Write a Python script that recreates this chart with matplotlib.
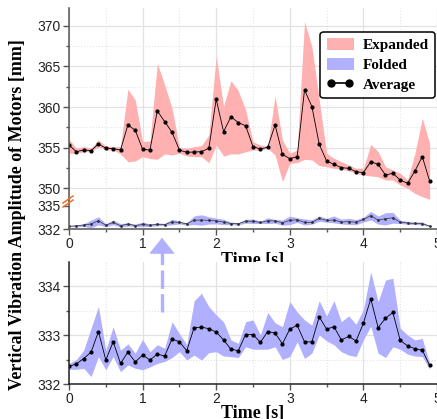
import numpy as np
import matplotlib
matplotlib.use("Agg")
import matplotlib.pyplot as plt
from matplotlib.lines import Line2D
from matplotlib.patches import Patch, FancyArrowPatch
from matplotlib.ticker import MultipleLocator, FixedLocator

plt.rcParams['font.family'] = ['Liberation Sans', 'DejaVu Sans']
plt.rcParams['font.size'] = 10

# sampling times [s]
time = np.arange(50) * 0.1

expanded_avg = [355.33, 354.51, 354.72, 354.64, 355.46, 354.93, 354.89, 354.72, 357.80, 357.15,
                354.80, 354.72, 359.53, 358.21, 356.90, 354.72, 354.43, 354.47, 354.51, 354.93,
                360.97, 356.97, 358.82, 358.09, 357.70, 355.13, 354.84, 355.05, 357.80, 354.19,
                353.65, 353.90, 362.11, 360.06, 355.42, 353.36, 352.95, 352.54, 352.46, 352.05,
                351.93, 353.28, 352.95, 351.64, 351.85, 351.02, 350.62, 352.13, 353.90, 350.90]
expanded_hi = [356.04, 354.93, 355.13, 354.93, 355.95, 355.21, 355.13, 355.13, 362.20, 360.88,
               355.74, 355.83, 365.40, 362.73, 359.86, 355.00, 354.93, 355.13, 355.25, 356.57,
               366.30, 360.06, 363.26, 362.03, 359.65, 355.74, 355.33, 355.13, 361.37, 355.95,
               354.31, 354.72, 370.53, 367.45, 360.88, 354.31, 353.70, 353.28, 352.87, 352.46,
               352.46, 355.42, 354.51, 352.66, 352.25, 351.85, 351.02, 354.31, 358.63, 355.54]
expanded_lo = [354.31, 354.31, 354.51, 354.51, 355.13, 354.72, 354.72, 354.23, 353.28, 353.36,
               353.90, 353.65, 353.57, 354.23, 354.10, 354.31, 353.98, 353.90, 353.90, 353.15,
               355.33, 353.98, 354.23, 354.23, 354.50, 354.72, 354.72, 354.93, 354.10, 350.82,
               353.08, 353.15, 353.57, 353.49, 352.79, 352.66, 352.46, 352.34, 352.17, 351.85,
               351.64, 351.52, 351.43, 351.02, 351.02, 350.41, 350.00, 349.38, 348.97, 348.64]

folded_avg = [332.36, 332.41, 332.52, 332.65, 333.07, 332.49, 332.86, 332.42, 332.65, 332.45,
              332.59, 332.49, 332.61, 332.57, 332.92, 332.86, 332.68, 333.15, 333.16, 333.13,
              333.06, 332.90, 332.71, 332.68, 333.01, 333.01, 332.85, 333.07, 333.04, 332.82,
              333.12, 333.20, 332.86, 332.86, 333.37, 333.12, 333.17, 332.90, 332.97, 332.88,
              333.24, 333.74, 333.15, 333.34, 333.46, 332.89, 332.78, 332.72, 332.69, 332.38]
folded_hi = [332.42, 332.50, 332.69, 333.14, 333.58, 332.69, 333.17, 332.69, 332.82, 332.63,
             332.91, 332.66, 332.80, 332.73, 333.27, 333.03, 332.80, 333.70, 333.85, 333.58,
             333.41, 333.27, 332.90, 332.83, 333.27, 333.31, 333.00, 333.46, 333.25, 333.17,
             333.68, 333.47, 333.31, 333.20, 333.70, 333.39, 333.70, 333.27, 333.39, 333.22,
             333.52, 334.29, 333.68, 334.12, 334.16, 333.14, 333.00, 332.90, 332.93, 332.42]
folded_lo = [332.30, 332.30, 332.32, 332.15, 332.56, 332.29, 332.56, 332.25, 332.39, 332.32,
             332.29, 332.35, 332.42, 332.46, 332.54, 332.66, 332.49, 332.59, 332.49, 332.64,
             332.66, 332.57, 332.56, 332.54, 332.76, 332.71, 332.71, 332.71, 332.76, 332.50,
             332.56, 332.86, 332.52, 332.63, 333.00, 332.88, 332.80, 332.66, 332.59, 332.56,
             332.90, 333.18, 332.63, 332.54, 332.76, 332.71, 332.61, 332.57, 332.56, 332.30]

PINK = '#ffb0b0'
BLUE = '#b0b0ff'
SPINE = '#555555'
serif_bold = dict(family=['Liberation Serif', 'DejaVu Serif'], weight='bold')

W, H = 437, 419
fig = plt.figure(figsize=(W / 100, H / 100), dpi=100)


def px(x0, y0, x1, y1):
    # pixel box (top-left origin) -> figure fraction rect
    return [x0 / W, 1 - y1 / H, (x1 - x0) / W, (y1 - y0) / H]


ax_hi = fig.add_axes(px(69, 8, 437, 200))
ax_lo = fig.add_axes(px(69, 200, 437, 229))
ax_zm = fig.add_axes(px(69, 262, 437, 384))


def style(ax):
    for s in ('top', 'right'):
        ax.spines[s].set_visible(False)
    for s in ('left', 'bottom'):
        ax.spines[s].set_color(SPINE)
        ax.spines[s].set_linewidth(1.1)
    ax.set_xlim(0, 5)
    ax.xaxis.set_major_locator(MultipleLocator(1))
    ax.xaxis.set_minor_locator(MultipleLocator(0.5))
    ax.tick_params(which='major', direction='out', length=4, width=1, color=SPINE,
                   labelsize=10, labelcolor='#222222', pad=2)
    ax.tick_params(which='minor', direction='out', length=2.5, width=1, color=SPINE)
    ax.grid(which='major', color='#e2e2e2', lw=0.9, ls='-')
    ax.grid(which='minor', color='#e4e4e4', lw=0.8, ls=':')
    ax.set_axisbelow(True)


for ax in (ax_hi, ax_lo, ax_zm):
    style(ax)

# upper segment of the broken axis: expanded state
ax_hi.fill_between(time, expanded_lo, expanded_hi, color=PINK, lw=0)
ax_hi.plot(time, expanded_avg, color='black', lw=0.6, marker='o', ms=2.0)
ax_hi.set_ylim(348.56, 372.2)
ax_hi.yaxis.set_major_locator(FixedLocator([350, 355, 360, 365, 370]))
ax_hi.yaxis.set_minor_locator(FixedLocator([352.5, 357.5, 362.5, 367.5]))
ax_hi.spines['bottom'].set_visible(False)
ax_hi.tick_params(axis='x', which='both', bottom=False, labelbottom=False)

# lower segment: folded state
ax_lo.fill_between(time, folded_lo, folded_hi, color=BLUE, lw=0)
ax_lo.plot(time, folded_avg, color='#333333', lw=0.5, marker='o', ms=1.0)
ax_lo.set_ylim(332, 335.77)
ax_lo.yaxis.set_major_locator(FixedLocator([332, 335]))
ax_lo.yaxis.set_minor_locator(FixedLocator([]))
ax_lo.grid(axis='y', which='both', visible=False)
ax_lo.set_xlabel('Time [s]', fontsize=13, **serif_bold)
ax_lo.xaxis.set_label_coords(0.5, -0.8)

# break marks on the left spine
for dy in (0, 4):
    fig.add_artist(Line2D([63 / W, 73 / W], [1 - (203 + dy) / H, 1 - (196 + dy) / H],
                          color='#e8702a', lw=1.1))

# zoomed view of the folded state
ax_zm.fill_between(time, folded_lo, folded_hi, color=BLUE, lw=0)
ax_zm.plot(time, folded_avg, color='black', lw=0.6, marker='o', ms=2.0)
ax_zm.set_ylim(332, 334.49)
ax_zm.yaxis.set_major_locator(MultipleLocator(1))
ax_zm.yaxis.set_minor_locator(MultipleLocator(0.5))
ax_zm.spines['left'].set_color('#222222')
ax_zm.spines['bottom'].set_color('#222222')
ax_zm.set_xlabel('Time [s]', fontsize=13, **serif_bold)
ax_zm.xaxis.set_label_coords(0.5, -0.17)

# dashed pointer from the zoomed panel up to the folded band
fig.add_artist(Line2D([162 / W, 162 / W], [1 - 312 / H, 1 - 246 / H], color=BLUE,
                      lw=2.4, ls=(0, (5.5, 1.6))))
fig.add_artist(FancyArrowPatch((162 / W, 1 - 250 / H), (162 / W, 1 - 235 / H),
                               transform=fig.transFigure, arrowstyle='-|>,head_length=4.5,head_width=3.6',
                               color=BLUE, lw=0.5, mutation_scale=2.4))

fig.text(18 / W, 1 - 215 / H, 'Vertical Vibration Amplitude of Motors [mm]',
         rotation=90, ha='center', va='center', fontsize=13, **serif_bold)

handles = [Patch(facecolor=PINK, edgecolor='none'),
           Patch(facecolor=BLUE, edgecolor='none'),
           Line2D([], [], color='black', lw=1.2, marker='o', ms=5)]
leg = fig.legend(handles, ['Expanded', 'Folded', 'Average'], loc='upper right',
                 bbox_to_anchor=(437 / W, 1 - 30 / H), bbox_transform=fig.transFigure,
                 prop=dict(family=['Liberation Serif', 'DejaVu Serif'], weight='bold', size=11),
                 numpoints=2, handlelength=1.8, handleheight=0.9, handletextpad=0.6,
                 labelspacing=0.35, borderpad=0.4, borderaxespad=0.1,
                 fancybox=True, framealpha=1, edgecolor='black')
leg.get_frame().set_linewidth(1.1)

fig.savefig('out.png', dpi=100)
